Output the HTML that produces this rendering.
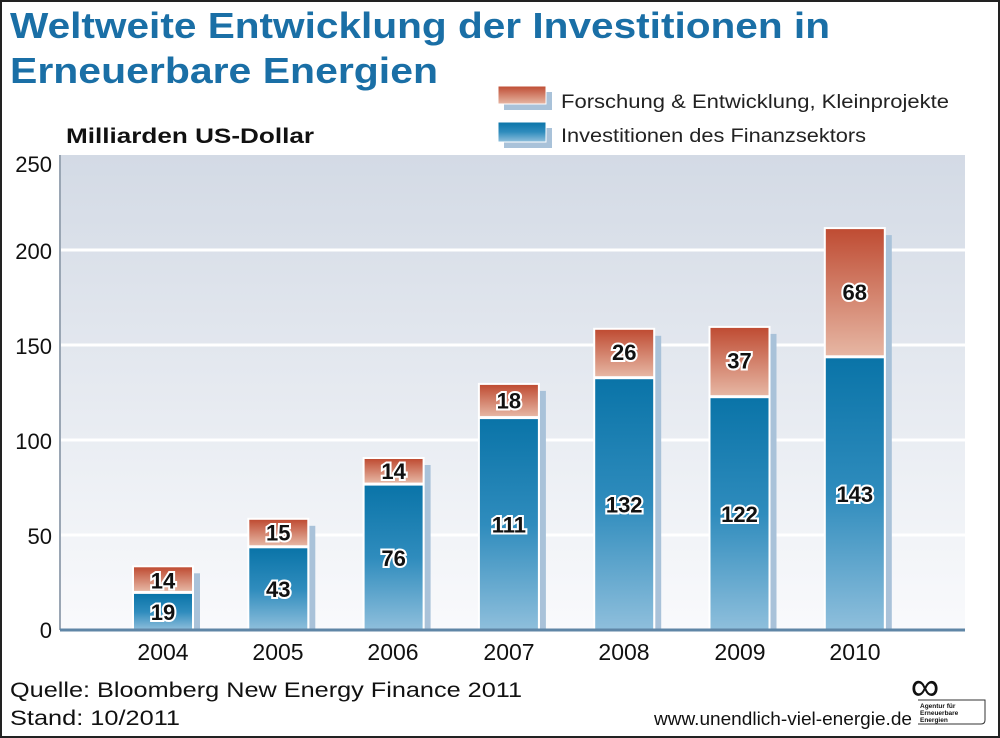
<!DOCTYPE html>
<html><head><meta charset="utf-8"><style>
html,body{margin:0;padding:0;background:#fff}
svg{display:block}
</style></head><body>
<svg width="1000" height="738" viewBox="0 0 1000 738" xmlns="http://www.w3.org/2000/svg" font-family="Liberation Sans, sans-serif">
<defs>
<linearGradient id="bg" x1="0" y1="0" x2="0" y2="1"><stop offset="0" stop-color="#d3dae5"/><stop offset="1" stop-color="#f9fafc"/></linearGradient>
<linearGradient id="blue" x1="0" y1="0" x2="0" y2="1"><stop offset="0" stop-color="#0a74a8"/><stop offset="0.5" stop-color="#2f8cbd"/><stop offset="1" stop-color="#8fbfdc"/></linearGradient>
<linearGradient id="red" x1="0" y1="0" x2="0" y2="1"><stop offset="0" stop-color="#bf4c33"/><stop offset="1" stop-color="#e6b6a3"/></linearGradient>
</defs>
<rect x="1" y="1" width="998" height="736" fill="#fff" stroke="#222" stroke-width="2"/>
<text x="10" y="38" font-size="36" font-weight="bold" fill="#1a6fa6" textLength="820" lengthAdjust="spacingAndGlyphs">Weltweite Entwicklung der Investitionen in</text>
<text x="10" y="83" font-size="36" font-weight="bold" fill="#1a6fa6" textLength="428" lengthAdjust="spacingAndGlyphs">Erneuerbare Energien</text>
<text x="66" y="143" font-size="21" font-weight="bold" fill="#111" textLength="248" lengthAdjust="spacingAndGlyphs">Milliarden US-Dollar</text>
<rect x="504" y="92" width="48" height="18" fill="#a9c2d9"/>
<rect x="498" y="86" width="48" height="18" fill="url(#red)" stroke="#fff" stroke-width="1"/>
<text x="561" y="108" font-size="19" fill="#222" textLength="388" lengthAdjust="spacingAndGlyphs">Forschung &amp; Entwicklung, Kleinprojekte</text>
<rect x="504" y="128" width="48" height="20" fill="#a9c2d9"/>
<rect x="498" y="122" width="48" height="20" fill="url(#blue)" stroke="#fff" stroke-width="1"/>
<text x="561" y="142" font-size="19" fill="#222" textLength="305" lengthAdjust="spacingAndGlyphs">Investitionen des Finanzsektors</text>
<rect x="60" y="155" width="905" height="475" fill="url(#bg)"/>
<g stroke="#fff" stroke-width="3">
<line x1="60" y1="250" x2="965" y2="250"/><line x1="60" y1="345" x2="965" y2="345"/><line x1="60" y1="440" x2="965" y2="440"/><line x1="60" y1="535" x2="965" y2="535"/>
</g>
<line x1="60" y1="155" x2="60" y2="630" stroke="#9aa6b4" stroke-width="2"/>
<g font-size="22" fill="#111" text-anchor="end">
<text x="52" y="172">250</text><text x="52" y="259">200</text><text x="52" y="354">150</text><text x="52" y="449">100</text><text x="52" y="544">50</text><text x="52" y="638">0</text>
</g>
<g>
<!-- 2004 -->
<rect x="194" y="573.3" width="6" height="56.7" fill="#a9c2d9"/>
<rect x="132" y="565.3" width="62" height="64.7" fill="#fff"/>
<rect x="134" y="593.9" width="58" height="36.1" fill="url(#blue)"/>
<rect x="134" y="567.3" width="58" height="23.6" fill="url(#red)"/>
<!-- 2005 -->
<rect x="309.3" y="525.8" width="6" height="104.2" fill="#a9c2d9"/>
<rect x="247.3" y="517.8" width="62" height="112.2" fill="#fff"/>
<rect x="249.3" y="548.3" width="58" height="81.7" fill="url(#blue)"/>
<rect x="249.3" y="519.8" width="58" height="25.5" fill="url(#red)"/>
<!-- 2006 -->
<rect x="424.6" y="465" width="6" height="165" fill="#a9c2d9"/>
<rect x="362.6" y="457" width="62" height="173" fill="#fff"/>
<rect x="364.6" y="485.6" width="58" height="144.4" fill="url(#blue)"/>
<rect x="364.6" y="459" width="58" height="23.6" fill="url(#red)"/>
<!-- 2007 -->
<rect x="539.9" y="390.9" width="6" height="239.1" fill="#a9c2d9"/>
<rect x="477.9" y="382.9" width="62" height="247.1" fill="#fff"/>
<rect x="479.9" y="419.1" width="58" height="210.9" fill="url(#blue)"/>
<rect x="479.9" y="384.9" width="58" height="31.2" fill="url(#red)"/>
<!-- 2008 -->
<rect x="655.2" y="335.8" width="6" height="294.2" fill="#a9c2d9"/>
<rect x="593.2" y="327.8" width="62" height="302.2" fill="#fff"/>
<rect x="595.2" y="379.2" width="58" height="250.8" fill="url(#blue)"/>
<rect x="595.2" y="329.8" width="58" height="46.4" fill="url(#red)"/>
<!-- 2009 -->
<rect x="770.5" y="333.9" width="6" height="296.1" fill="#a9c2d9"/>
<rect x="708.5" y="325.9" width="62" height="304.1" fill="#fff"/>
<rect x="710.5" y="398.2" width="58" height="231.8" fill="url(#blue)"/>
<rect x="710.5" y="327.9" width="58" height="67.3" fill="url(#red)"/>
<!-- 2010 -->
<rect x="885.8" y="235.1" width="6" height="394.9" fill="#a9c2d9"/>
<rect x="823.8" y="227.1" width="62" height="402.9" fill="#fff"/>
<rect x="825.8" y="358.3" width="58" height="271.7" fill="url(#blue)"/>
<rect x="825.8" y="229.1" width="58" height="126.2" fill="url(#red)"/>
</g>
<g font-size="22" font-weight="bold" text-anchor="middle" fill="#111" stroke="#fff" stroke-width="4" style="paint-order:stroke">
<text x="163" y="620">19</text><text x="163" y="588.6">14</text>
<text x="278.3" y="597.2">43</text><text x="278.3" y="540.6">15</text>
<text x="393.6" y="565.8">76</text><text x="393.6" y="478.8">14</text>
<text x="508.9" y="532.6">111</text><text x="508.9" y="408.5">18</text>
<text x="624.2" y="512.6">132</text><text x="624.2" y="360">26</text>
<text x="739.5" y="522.1">122</text><text x="739.5" y="368.6">37</text>
<text x="854.8" y="502.2">143</text><text x="854.8" y="300.2">68</text>
</g>
<line x1="60" y1="630" x2="965" y2="630" stroke="#5f86a6" stroke-width="3"/>
<g font-size="23" fill="#111" text-anchor="middle">
<text x="163" y="660">2004</text><text x="278" y="660">2005</text><text x="393" y="660">2006</text><text x="509" y="660">2007</text><text x="624" y="660">2008</text><text x="740" y="660">2009</text><text x="855" y="660">2010</text>
</g>
<text x="10" y="697" font-size="21" fill="#111" textLength="512" lengthAdjust="spacingAndGlyphs">Quelle: Bloomberg New Energy Finance 2011</text>
<text x="10" y="725" font-size="21" fill="#111" textLength="170" lengthAdjust="spacingAndGlyphs">Stand: 10/2011</text>
<text x="654" y="725" font-size="18" fill="#111" textLength="258" lengthAdjust="spacingAndGlyphs">www.unendlich-viel-energie.de</text>
<text x="925" y="700" font-size="40" fill="#111" text-anchor="middle">∞</text>
<path d="M918 700 H985 V720 Q985 724 981 724 H918" fill="none" stroke="#333" stroke-width="1"/>
<text x="920" y="708" font-size="6.5" font-weight="bold" fill="#111">Agentur für</text>
<text x="920" y="715" font-size="6.5" font-weight="bold" fill="#111">Erneuerbare</text>
<text x="920" y="722" font-size="6.5" font-weight="bold" fill="#111">Energien</text>
</svg>
</body></html>
